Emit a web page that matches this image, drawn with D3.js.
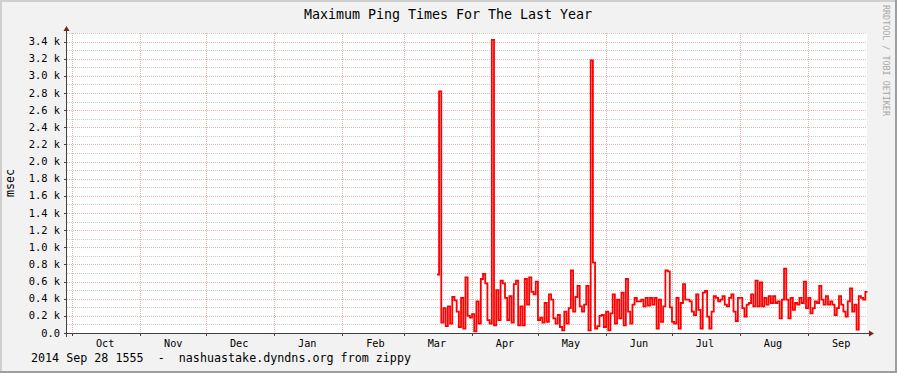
<!DOCTYPE html>
<html><head><meta charset="utf-8">
<script src="https://cdn.jsdelivr.net/npm/d3@7"></script>
<style>html,body{margin:0;padding:0;background:#f2f2f2;} svg{display:block;}</style>
</head><body>
<svg id="c" width="897" height="373"></svg>
<script>
const title = "Maximum Ping Times For The Last Year";
const yLabel = "msec";
const footer = "2014 Sep 28 1555  -  nashuastake.dyndns.org from zippy";
const watermark = "RRDTOOL / TOBI OETIKER";
const periodStart = "2013-09-28T15:55:00Z";
const periodEnd = "2014-09-28T15:55:00Z";
const firstDay = "2014-03-16T00:00:00Z";
const monthLabels = ["Oct","Nov","Dec","Jan","Feb","Mar","Apr","May","Jun","Jul","Aug","Sep"];
const yTicks = [0,200,400,600,800,1000,1200,1400,1600,1800,2000,2200,2400,2600,2800,3000,3200,3400];
const yTickLabels = ["0.0","0.2 k","0.4 k","0.6 k","0.8 k","1.0 k","1.2 k","1.4 k","1.6 k","1.8 k","2.0 k","2.2 k","2.4 k","2.6 k","2.8 k","3.0 k","3.2 k","3.4 k"];
const yMinorTicks = [100,300,500,700,900,1100,1300,1500,1700,1900,2100,2300,2500,2700,2900,3100,3300,3500];
const yMax = 3500;
// daily maximum ping, msec (from 2014-03-16)
const pingMax = [
 680,2820,120,290,80,310,110,420,380,250,70,410,50,650,200,180,220,20,370,110,
 630,690,580,150,110,3420,90,500,150,610,580,410,150,430,120,570,610,90,310,90,
 630,330,650,480,450,600,150,180,120,350,130,450,390,170,110,210,70,30,250,110,
 290,730,250,420,550,310,250,330,550,30,3180,820,50,80,200,210,70,250,30,230,
 450,110,390,170,470,90,630,250,110,330,410,370,370,390,310,410,320,410,330,410,
 50,390,130,310,730,720,300,130,110,410,50,350,570,390,390,370,250,210,450,270,
 50,470,490,190,50,250,430,410,370,390,430,330,310,410,450,250,140,410,410,290,
 190,330,350,450,310,610,310,590,310,410,330,430,350,430,350,370,170,390,750,390,
 170,410,270,350,330,410,350,600,290,410,230,290,370,350,550,390,330,430,330,370,
 330,210,290,430,330,250,190,370,520,250,330,40,430,410,390,480
];

const W = 897, H = 373;
const x0 = 67, x1 = 867, y0 = 333, y1 = 33;
const svg = d3.select("#c");
const font = "DejaVu Sans Mono";

// background + frame
svg.append("rect").attr("x",0).attr("y",0).attr("width",W).attr("height",H).attr("fill","#f2f2f2");
svg.append("rect").attr("x",x0).attr("y",y1).attr("width",x1-x0).attr("height",y0-y1).attr("fill","#ffffff");
svg.append("rect").attr("x",0).attr("y",0).attr("width",W).attr("height",2).attr("fill","#cfcfcf");
svg.append("rect").attr("x",0).attr("y",0).attr("width",2).attr("height",H).attr("fill","#cfcfcf");
svg.append("rect").attr("x",0).attr("y",H-2).attr("width",W).attr("height",2).attr("fill","#9e9e9e");
svg.append("rect").attr("x",W-2).attr("y",0).attr("width",2).attr("height",H).attr("fill","#9e9e9e");

const x = d3.scaleUtc().domain([new Date(periodStart), new Date(periodEnd)]).range([x0, x1+2]);
const y = d3.scaleLinear().domain([0, yMax]).range([y0, y1]);

// minor horizontal grid
svg.append("g").selectAll("line").data(yMinorTicks).join("line")
  .attr("x1", x0).attr("x2", x1).attr("y1", d=>Math.round(y(d))+0.5).attr("y2", d=>Math.round(y(d))+0.5)
  .attr("stroke","rgba(143,143,143,0.45)").attr("stroke-dasharray","1,1");
// major horizontal grid
svg.append("g").selectAll("line").data(yTicks.slice(1)).join("line")
  .attr("x1", x0).attr("x2", x1).attr("y1", d=>Math.round(y(d))+0.5).attr("y2", d=>Math.round(y(d))+0.5)
  .attr("stroke","rgba(222,79,79,0.45)").attr("stroke-dasharray","1,1");

// vertical month grid
const months = d3.utcMonth.range(new Date(periodStart), new Date(periodEnd));
svg.append("g").selectAll("line").data(months).join("line")
  .attr("x1", d=>Math.round(x(d))+0.5).attr("x2", d=>Math.round(x(d))+0.5)
  .attr("y1", y1).attr("y2", y0)
  .attr("stroke","rgba(222,79,79,0.45)").attr("stroke-dasharray","1,1");
// x ticks
svg.append("g").selectAll("line").data(months).join("line")
  .attr("x1", d=>Math.round(x(d))+0.5).attr("x2", d=>Math.round(x(d))+0.5)
  .attr("y1", y0).attr("y2", y0+3).attr("stroke","#404040");
// y ticks
svg.append("g").selectAll("line").data(yTicks).join("line")
  .attr("x1", x0-3).attr("x2", x0).attr("y1", d=>Math.round(y(d))+0.5).attr("y2", d=>Math.round(y(d))+0.5)
  .attr("stroke","#404040");

// month labels (centered mid-month)
svg.append("g").selectAll("text").data(months).join("text")
  .attr("x", d=>x(d3.utcDay.offset(d,15))).attr("y", 347)
  .attr("text-anchor","middle").attr("font-family",font).attr("font-size","10.2px").attr("fill","#000")
  .text((d,i)=>monthLabels[i]);
// y labels
svg.append("g").selectAll("text").data(yTicks).join("text")
  .attr("x", 60).attr("y", d=>y(d)+3.6)
  .attr("text-anchor","end").attr("font-family",font).attr("font-size","10.4px").attr("fill","#000")
  .text((d,i)=>yTickLabels[i]);

// data line
const pts = pingMax.map((v,i)=>({t:d3.utcDay.offset(new Date(firstDay), i), v}));
pts.push({t:d3.utcDay.offset(new Date(firstDay), pingMax.length), v:pingMax[pingMax.length-1]});
const line = d3.line().x(d=>x(d.t)).y(d=>y(d.v)).curve(d3.curveStepAfter);
svg.append("path").datum(pts).attr("d", line).attr("fill","none")
  .attr("stroke","#ff0000").attr("stroke-width",1.8).attr("stroke-linejoin","miter");

// axes
svg.append("line").attr("x1",x0-3).attr("x2",x1+4).attr("y1",y0+0.5).attr("y2",y0+0.5).attr("stroke","#404040");
svg.append("line").attr("x1",x0-0.5).attr("x2",x0-0.5).attr("y1",y0+4).attr("y2",y1-3).attr("stroke","#404040");
svg.append("path").attr("d",`M${x0-3.5},${y1-2} L${x0+2.5},${y1-2} L${x0-0.5},${y1-7} Z`).attr("fill","#801f1f");
svg.append("path").attr("d",`M${x1+2},${y0-2.5} L${x1+2},${y0+3.5} L${x1+7},${y0+0.5} Z`).attr("fill","#801f1f");

// title
svg.append("text").attr("x",448).attr("y",19).attr("text-anchor","middle")
  .attr("font-family",font).attr("font-size","13.3px").attr("fill","#000").text(title);
// y axis label
svg.append("text").attr("transform","translate(14,183) rotate(-90)").attr("text-anchor","middle")
  .attr("font-family",font).attr("font-size","11.7px").attr("fill","#000").text(yLabel);
// footer
svg.append("text").attr("x",31).attr("y",362).attr("xml:space","preserve").style("white-space","pre")
  .attr("font-family",font).attr("font-size","11.7px").attr("fill","#000").text(footer);
// watermark
svg.append("text").attr("transform","translate(883,5) rotate(90)").attr("text-anchor","start")
  .attr("font-family",font).attr("font-size","8.4px").attr("fill","#a8a8a8").text(watermark);
</script>
</body></html>
